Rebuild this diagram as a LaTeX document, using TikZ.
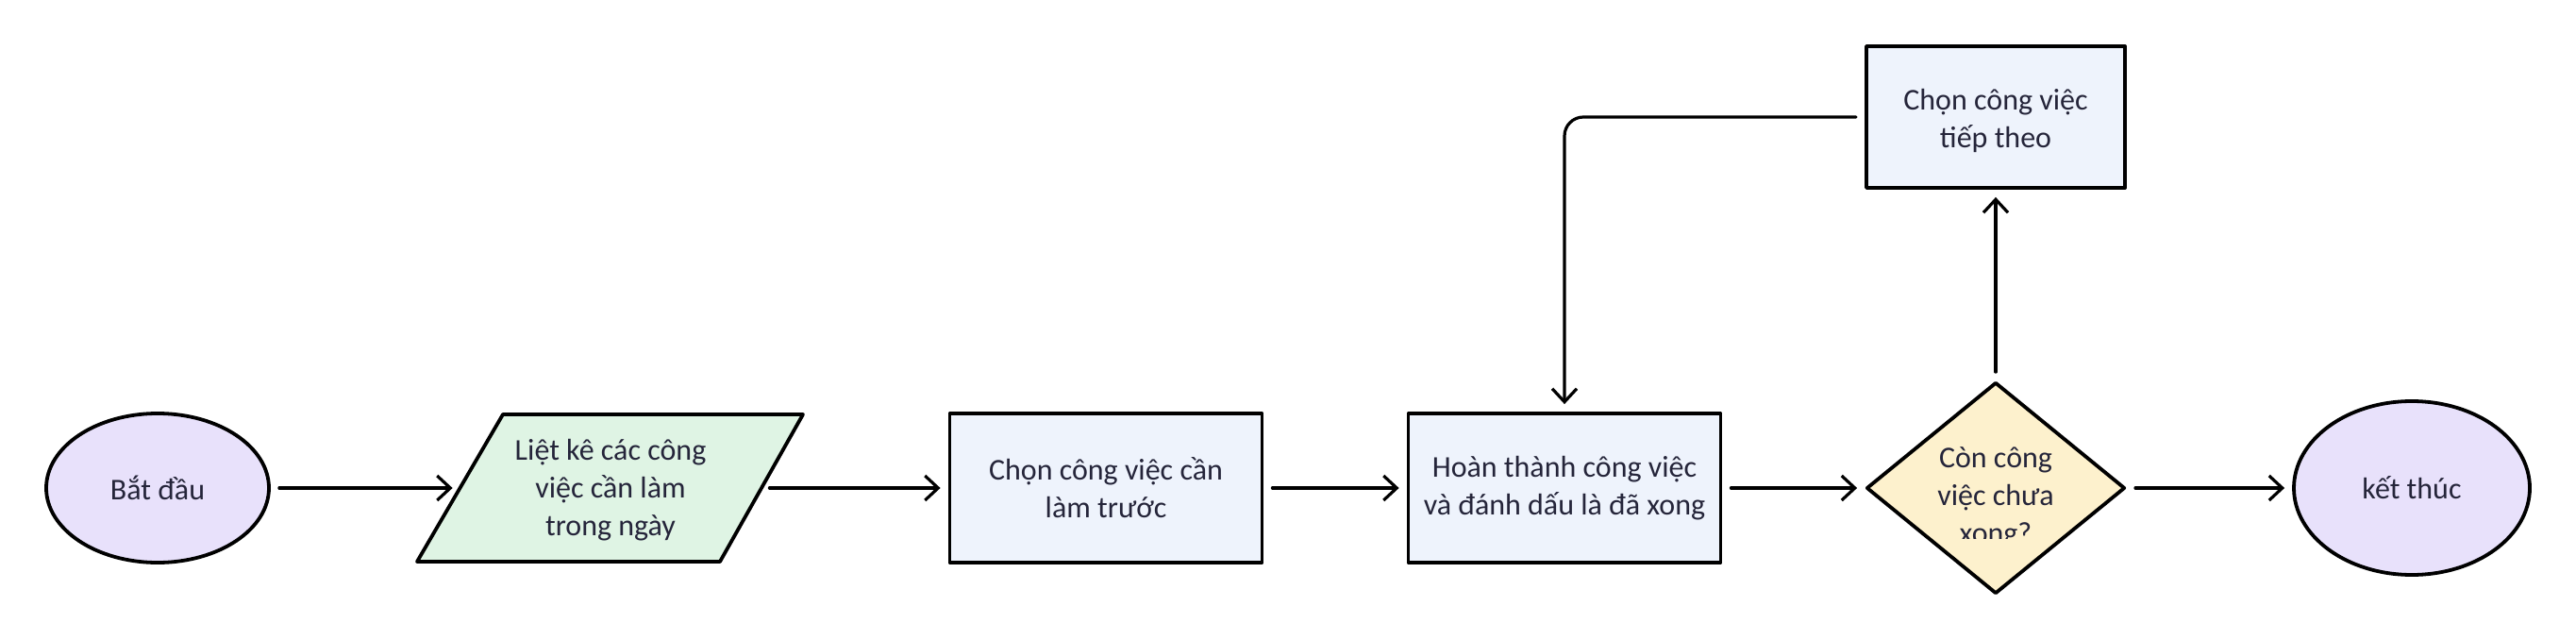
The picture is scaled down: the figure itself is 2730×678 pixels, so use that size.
\documentclass[tikz,border=0pt]{standalone}
\usepackage{fontspec}
\setmainfont{Carlito}
\usetikzlibrary{shapes.geometric,arrows.meta}
\definecolor{txt}{HTML}{25253A}
\definecolor{lav}{HTML}{E8E1FB}
\definecolor{mint}{HTML}{DFF4E4}
\definecolor{pale}{HTML}{EEF3FC}
\definecolor{cream}{HTML}{FDF1CD}
\begin{document}
\begin{tikzpicture}[x=0.5pt,y=-0.5pt,
  every node/.style={font=\fontsize{16}{20}\selectfont, text=txt, align=center, inner sep=0pt},
  shapeline/.style={draw=black, line width=1.9pt, line join=round},
  term/.style={shapeline, ellipse, fill=lav},
  proc/.style={shapeline, rectangle, fill=pale, minimum width=165.5pt, minimum height=79pt},
  conn/.style={line width=1.6pt, line cap=round, line join=round, -{Straight Barb[length=7pt,width=13pt]}, shorten <=4.5pt, shorten >=4pt}
]
\useasboundingbox (0,0) rectangle (2730,678);
% start
\node[term, minimum width=118pt, minimum height=79pt] (start) at (167,517) {Bắt đầu};
% parallelogram
\filldraw[shapeline, fill=mint] (533,439) -- (851,439) -- (763,595) -- (442,595) -- cycle;
\node[minimum width=159pt, minimum height=78pt] (list) at (647,517) {};
\node (listtxt) at (647,519) {Liệt kê các công\\việc cần làm\\trong ngày};
% process boxes
\node[proc] (choose) at (1172,517) {Chọn công việc cần\\làm trước};
\node[proc] (done) at (1658,517) {Hoàn thành công việc\\và đánh dấu là đã xong};
% decision
\node[shapeline, diamond, fill=cream, minimum width=137pt, minimum height=112pt] (check) at (2115,517) {};
\begin{scope}
\clip (1990,405) rectangle (2240,570);
\node (checktxt) at (2115,527) {Còn công\\việc chưa\\xong?};
\end{scope}
% end
\node[term, minimum width=125pt, minimum height=92pt] (stop) at (2556,517) {kết thúc};
% next task
\node[shapeline, fill=pale, minimum width=137pt, minimum height=75pt] (next) at (2115,124) {};
\node (nexttxt) at (2115,128) {Chọn công việc\\tiếp theo};
% connectors
\draw[conn] (start) -- (list);
\draw[conn] (list) -- (choose);
\draw[conn] (choose) -- (done);
\draw[conn] (done) -- (check);
\draw[conn] (check) -- (stop);
\draw[conn] (check) -- (next);
\draw[conn, rounded corners=10pt] (next.west) -| (done.north);
\end{tikzpicture}
\end{document}
